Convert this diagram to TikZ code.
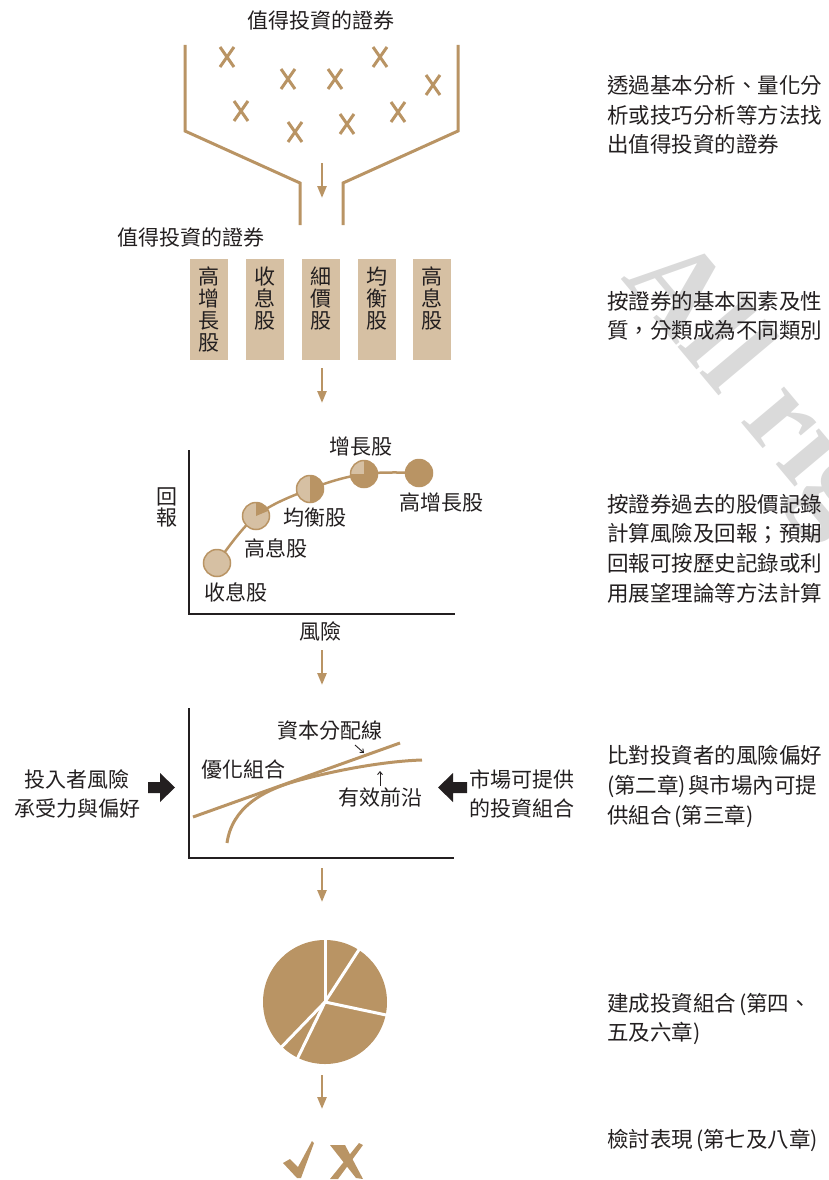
\documentclass[tikz,border=0pt]{standalone}
\usepackage{fontspec}
\setmainfont{Noto Sans CJK TC}
\newfontfamily\wmfont{Liberation Serif}
\usetikzlibrary{arrows.meta}
\definecolor{tan}{RGB}{185,148,100}
\definecolor{lighttan}{RGB}{214,192,163}
\definecolor{ink}{RGB}{35,31,32}
\definecolor{wmgray}{RGB}{218,218,218}
\begin{document}
\begin{tikzpicture}[x=1pt,y=-1pt,
  txt/.style={text=ink, inner sep=0pt, font=\fontsize{21}{30}\selectfont},
  desc/.style={txt, anchor=west, align=left, font=\fontsize{21.5}{29.6}\selectfont},
  boxtxt/.style={txt, align=center, anchor=north, font=\fontsize{21}{21.7}\selectfont},
  flowarrow/.style={draw=tan, line width=2.5pt, -{Triangle[width=9pt,length=12pt]}},
  funnel/.style={draw=tan, line width=3pt},
  xmark/.style={draw=tan, line width=3pt},
  stockbox/.style={fill=lighttan, minimum width=38pt, minimum height=101pt, anchor=north, inner sep=0pt},
  axis/.style={draw=ink, line width=1.5pt},
  tancurve/.style={draw=tan, line width=3pt},
  dotring/.style={draw=tan, line width=1.5pt},
  thinarrow/.style={draw=ink, line width=0.9pt, -{Straight Barb[length=3pt,width=5pt]}}
]
\useasboundingbox (0,0) rectangle (828,1180);

% watermark
\node[text=wmgray, font=\wmfont\bfseries\fontsize{122}{122}\selectfont, rotate=-50, anchor=base west, inner sep=0pt] (wmk) at (620,278) {All rights reserved};

% ---------- stage 1: funnel ----------
\node[txt] (title1) at (321,20) {值得投資的證券};
\draw[funnel] (185,45) -- (185,131) -- (300,183) -- (300,225);
\draw[funnel] (458,45) -- (458,131) -- (343,183) -- (343,225);
\foreach \x/\y [count=\i] in {227/57,288/79,335/79,380/57,433/85,241/111,295/132,347/124,398/112}{
  \draw[xmark] (\x-7,\y-10) -- (\x+7,\y+10);
  \draw[xmark] (\x+7,\y-10) -- (\x-7,\y+10);
}
\coordinate (a1s) at (322,163); \coordinate (a1e) at (322,198);
\draw[flowarrow] (a1s) -- (a1e);

% ---------- stage 2: boxes ----------
\node[txt] (title2) at (191,237) {值得投資的證券};
\node[stockbox] (b1) at (209,259) {};
\node[stockbox] (b2) at (265,259) {};
\node[stockbox] (b3) at (321,259) {};
\node[stockbox] (b4) at (377,259) {};
\node[stockbox] (b5) at (432,259) {};
\node[boxtxt] (t1) at (209,267) {高\\增\\長\\股};
\node[boxtxt] (t2) at (265,267) {收\\息\\股};
\node[boxtxt] (t3) at (321,267) {細\\價\\股};
\node[boxtxt] (t4) at (377,267) {均\\衡\\股};
\node[boxtxt] (t5) at (432,267) {高\\息\\股};
\coordinate (a2s) at (322,368); \coordinate (a2e) at (322,403);
\draw[flowarrow] (a2s) -- (a2e);

% ---------- stage 3: risk/return chart ----------
\draw[axis] (189,450) -- (189,614) -- (455,614);
\coordinate (c1) at (217,563);
\coordinate (c2) at (256,516);
\coordinate (c3) at (310,489);
\coordinate (c4) at (364,474);
\coordinate (c5) at (419,473);
\draw[tan, line width=2.5pt] plot[smooth, tension=0.6] coordinates {(c1) (c2) (c3) (c4) (c5)};
\foreach \c in {c1,c2,c3,c4}{\fill[lighttan] (\c) circle[radius=13.5];}
\fill[tan] (c2) -- ++(-23:13.5) arc[start angle=-23, end angle=-90, radius=13.5] -- cycle;
\fill[tan] (c3) -- ++(90:13.5) arc[start angle=90, end angle=-90, radius=13.5] -- cycle;
\fill[tan] (c4) -- ++(-90:13.5) arc[start angle=-90, end angle=180, radius=13.5] -- cycle;
\fill[tan] (c5) circle[radius=13.5];
\foreach \c in {c1,c2,c3,c4,c5}{\draw[dotring] (\c) circle[radius=13.5];}
\node[txt] (l1) at (236,592) {收息股};
\node[txt] (l2) at (276,548) {高息股};
\node[txt] (l3) at (315,518) {均衡股};
\node[txt] (l4) at (361,447) {增長股};
\node[txt] (l5) at (441,502) {高增長股};
\node[txt, align=center, font=\fontsize{21}{21}\selectfont] (ylab) at (167,507.5) {回\\報};
\node[txt] (xlab) at (320,631) {風險};
\coordinate (a3s) at (322,650); \coordinate (a3e) at (322,685);
\draw[flowarrow] (a3s) -- (a3e);

% ---------- stage 4: efficient frontier ----------
\draw[axis] (189,708) -- (189,858) -- (454,858);
\draw[tancurve] (193,817) -- (400,743);
\draw[tancurve] (227,843) .. controls (232,808) and (262,790) .. (300,780) .. controls (345,768) and (390,761) .. (422,760);
\node[txt] (cal) at (330,731) {資本分配線};
\node[txt] (opt) at (243,770) {優化組合};
\node[txt] (ef) at (380,798) {有效前沿};
\coordinate (calA) at (355,745); \coordinate (calB) at (364,753);
\draw[thinarrow] (calA) -- (calB);
\coordinate (efA) at (380,786); \coordinate (efB) at (380,771);
\draw[thinarrow] (efA) -- (efB);
\node[txt, align=center, font=\fontsize{21}{29}\selectfont] (inv) at (77,793.5) {投入者風險\\承受力與偏好};
\node[txt, align=center, font=\fontsize{21}{29}\selectfont] (mkt) at (522,793.5) {市場可提供\\的投資組合};
\fill[ink] (148,782) -- (160,782) -- (160,773) -- (175,787.5) -- (160,802) -- (160,793) -- (148,793) -- cycle;
\fill[ink] (467,782) -- (453,782) -- (453,773) -- (438,787.5) -- (453,802) -- (453,793) -- (467,793) -- cycle;
\coordinate (a4s) at (322,868); \coordinate (a4e) at (322,902);
\draw[flowarrow] (a4s) -- (a4e);

% ---------- stage 5: pie ----------
\coordinate (pc) at (325,1002);
\fill[tan] (pc) circle[radius=62];
\foreach \a in {-90,-57,12,116,134}{\draw[white, line width=3pt] (pc) -- ++(\a:66);}
\coordinate (a5s) at (322,1075); \coordinate (a5e) at (322,1109);
\draw[flowarrow] (a5s) -- (a5e);

% ---------- stage 6: check and cross ----------
\fill[tan] (283,1163) -- (290,1159) -- (298,1167) -- (312,1141) -- (314,1143) -- (301,1178) -- (297,1178) -- cycle;
\fill[tan] (330,1145) -- (345,1145) -- (363,1179) -- (356,1178) -- cycle;
\fill[tan] (359,1143) -- (363,1145) -- (338,1179) -- (330,1179) -- cycle;

% ---------- right descriptions ----------
\node[desc] (d1) at (607,115) {透過基本分析、量化分\\析或技巧分析等方法找\\出值得投資的證券};
\node[desc] (d2) at (607,316) {按證券的基本因素及性\\質，分類成為不同類別};
\node[desc] (d3) at (607,548.5) {按證券過去的股價記錄\\計算風險及回報；預期\\回報可按歷史記錄或利\\用展望理論等方法計算};
\node[desc] (d4) at (607,786.5) {比對投資者的風險偏好\\(第二章)\hspace{2pt}與市場內可提\\供組合\hspace{3pt}(第三章)};
\node[desc] (d5) at (607,1019) {建成投資組合\hspace{3pt}(第四、\\五及六章)};
\node[desc] (d6) at (607,1140) {檢討表現\hspace{3pt}(第七及八章)};
\end{tikzpicture}
\end{document}
